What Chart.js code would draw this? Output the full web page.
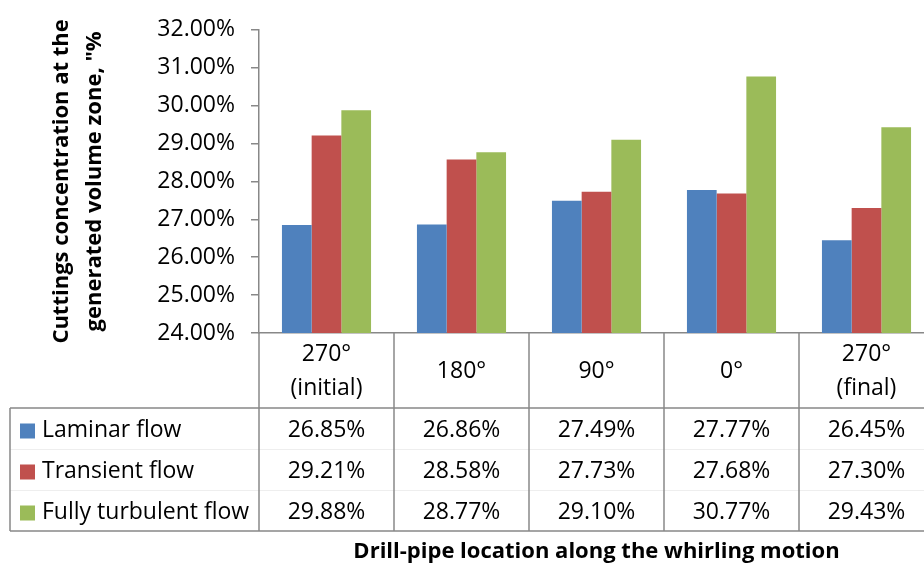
<!DOCTYPE html>
<html>
<head>
<meta charset="utf-8">
<script src="https://cdn.jsdelivr.net/npm/chart.js@4/dist/chart.umd.min.js"></script>
<style>
  html, body { margin: 0; padding: 0; background: #fff; overflow: hidden; }
  #wrap { width: 940px; height: 569px; }
</style>
</head>
<body>
<div id="wrap"><canvas id="chart" width="940" height="569"></canvas></div>
<script>
// Data
const categories = [["270°", "(initial)"], ["180°"], ["90°"], ["0°"], ["270°", "(final)"]];
const seriesNames = ["Laminar flow", "Transient flow", "Fully turbulent flow"];
const laminar = [26.85, 26.86, 27.49, 27.77, 26.45];
const transient = [29.21, 28.58, 27.73, 27.68, 27.30];
const turbulent = [29.88, 28.77, 29.10, 30.77, 29.43];
const seriesColors = ["#4F81BD", "#C0504D", "#9BBB59"];

const FONT = "'Open Sans', 'Noto Sans', sans-serif";
const AXIS_GRAY = "#888888";

// Excel-style data table drawn under the plot, using the x scale geometry
const dataTable = {
  id: "dataTable",
  afterDraw(chart) {
    const ctx = chart.ctx;
    const x = chart.scales.x;
    const n = categories.length;
    const catW = (x.right - x.left) / n;
    const top = x.top;
    const headBottom = top + 75;
    const rowH = 41;
    const bottom = headBottom + rowH * 3;
    const tableLeft = 10;

    ctx.save();
    // faint row separators
    ctx.strokeStyle = "#eeeeee";
    ctx.lineWidth = 1;
    for (let r = 1; r < 3; r++) {
      const y = Math.round(headBottom + r * rowH) + 0.5;
      ctx.beginPath();
      ctx.moveTo(tableLeft, y);
      ctx.lineTo(x.right, y);
      ctx.stroke();
    }

    ctx.strokeStyle = AXIS_GRAY;
    ctx.lineWidth = 1.5;
    // vertical column lines
    for (let i = 0; i <= n; i++) {
      const lx = x.left + i * catW;
      ctx.beginPath();
      ctx.moveTo(lx, top);
      ctx.lineTo(lx, bottom);
      ctx.stroke();
    }
    // horizontal lines + left border
    ctx.beginPath();
    ctx.moveTo(tableLeft, headBottom);
    ctx.lineTo(x.right, headBottom);
    ctx.moveTo(tableLeft, bottom);
    ctx.lineTo(x.right, bottom);
    ctx.moveTo(tableLeft, headBottom);
    ctx.lineTo(tableLeft, bottom);
    ctx.stroke();

    ctx.fillStyle = "#000";
    ctx.font = "23px " + FONT;
    ctx.textBaseline = "middle";
    ctx.textAlign = "center";

    // header row (category labels)
    categories.forEach((lines, i) => {
      const cx = x.getPixelForValue(i);
      const mid = (top + headBottom) / 2 + 1;
      const lh = 34;
      lines.forEach((t, k) => {
        ctx.fillText(t, cx, mid + (k - (lines.length - 1) / 2) * lh);
      });
    });

    // series rows
    const allSeries = [laminar, transient, turbulent];
    allSeries.forEach((vals, r) => {
      const cy = headBottom + rowH * r + rowH / 2 + 2;
      ctx.fillStyle = seriesColors[r];
      ctx.fillRect(20, cy - 7, 15, 15);
      ctx.fillStyle = "#000";
      ctx.textAlign = "left";
      ctx.fillText(seriesNames[r], 42, cy);
      ctx.textAlign = "center";
      vals.forEach((v, i) => {
        ctx.fillText(v.toFixed(2) + "%", x.getPixelForValue(i), cy);
      });
    });
    ctx.restore();
  }
};

const ctx = document.getElementById("chart").getContext("2d");
new Chart(ctx, {
  type: "bar",
  data: {
    labels: categories,
    datasets: [
      { label: seriesNames[0], data: laminar, backgroundColor: seriesColors[0] },
      { label: seriesNames[1], data: transient, backgroundColor: seriesColors[1] },
      { label: seriesNames[2], data: turbulent, backgroundColor: seriesColors[2] },
    ],
  },
  options: {
    responsive: false,
    animation: false,
    devicePixelRatio: 1,
    layout: { padding: { top: 18, right: 6, left: 0, bottom: 0 } },
    datasets: { bar: { categoryPercentage: 0.66, barPercentage: 1.0, borderWidth: 0 } },
    plugins: { legend: { display: false }, tooltip: { enabled: false } },
    scales: {
      x: {
        ticks: { display: false },
        grid: { display: false },
        border: { display: true, color: AXIS_GRAY, width: 1.5 },
        title: {
          display: true,
          text: "Drill-pipe location along the whirling motion",
          color: "#000",
          font: { family: FONT, size: 22, weight: "bold", lineHeight: 1.2 },
          padding: { top: 0, bottom: 4 },
        },
        afterFit: (s) => { s.height = 236; },
      },
      y: {
        min: 24,
        max: 32,
        ticks: {
          stepSize: 1,
          color: "#000",
          padding: 16,
          font: { family: FONT, size: 23 },
          callback: (v) => Number(v).toFixed(2) + "%",
        },
        grid: { drawOnChartArea: false, drawTicks: true, tickLength: 8, color: AXIS_GRAY, lineWidth: 1.5 },
        border: { display: true, color: AXIS_GRAY, width: 1.5 },
        title: {
          display: true,
          text: ["Cuttings concentration at the", "generated volume zone, \"%"],
          color: "#000",
          font: { family: FONT, size: 22, weight: "bold", lineHeight: "33px" },
          padding: { top: 45, bottom: 0 },
        },
        afterFit: (s) => { s.width = 259; },
      },
    },
  },
  plugins: [dataTable],
});
</script>
</body>
</html>
